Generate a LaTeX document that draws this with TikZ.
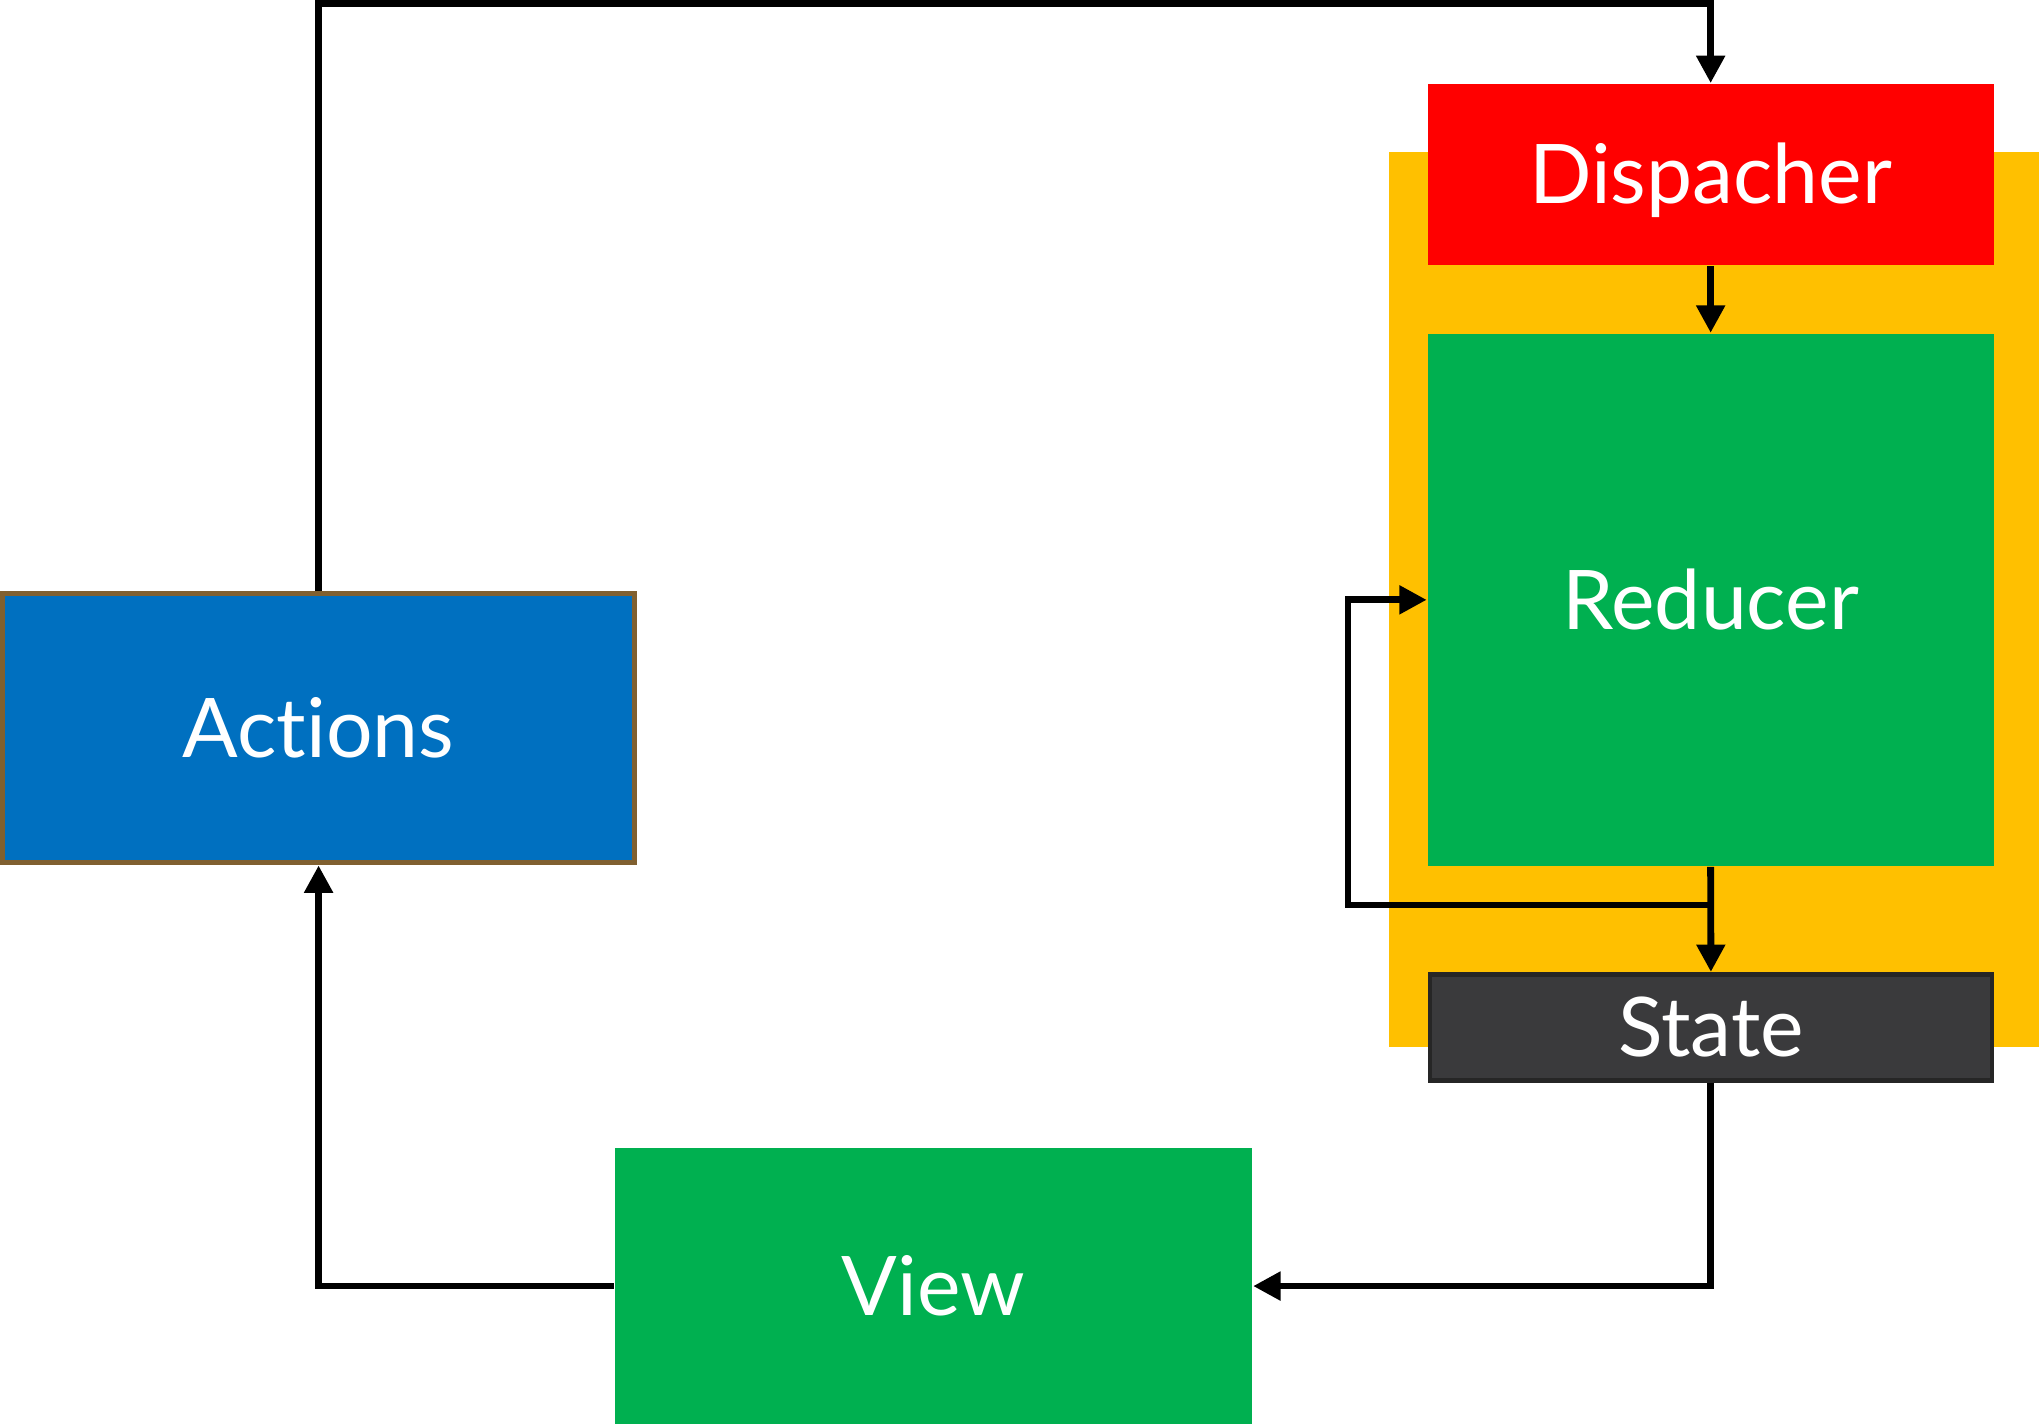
\documentclass[tikz,border=0pt]{standalone}
\usepackage{fontspec}
\setmainfont{Lato}[Ligatures=NoCommon]
\usepackage{xcolor}
\usetikzlibrary{arrows.meta}
\usetikzlibrary{positioning}

\definecolor{storeyellow}{RGB}{255,192,0}
\definecolor{dispred}{RGB}{255,0,0}
\definecolor{flowgreen}{RGB}{0,176,80}
\definecolor{actblue}{RGB}{0,112,192}
\definecolor{actbrown}{RGB}{128,96,48}
\definecolor{stategray}{RGB}{58,58,60}
\definecolor{stateborder}{RGB}{38,38,38}

\begin{document}
\begin{tikzpicture}[x=0.01cm,y=-0.01cm,>={Triangle[length=6pt,width=6pt]},
	font=\fontsize{18}{20}\selectfont,
	box/.style={inner sep=0pt,text=white,text height=12.9pt,text depth=0pt,minimum width=4.35cm},
	flow/.style={line width=1.5pt}]

			\useasboundingbox (0,0) rectangle (1568,1095);

			% store area
			\fill[storeyellow] (1068,117) rectangle (1568,805);

			\node[box,fill=dispred,minimum height=1.39cm] (dispacher) at (1315.5,134.2) {Dispacher};
			\node[box,fill=flowgreen,minimum height=4.09cm] (reducer) at (1315.5,461.3) {Reducer};
			\node[box,fill=stategray,draw=stateborder,line width=1pt,minimum width=4.32cm,minimum height=0.815cm] (state) at (1315.7,790) {State};
			\node[box,fill=actblue,draw=actbrown,line width=1.1pt,minimum width=4.86cm,minimum height=2.07cm] (actions) at (245,560) {Actions};
			\node[box,fill=flowgreen,minimum width=4.9cm,minimum height=2.12cm] (view) at (717.8,989) {View};

			\coordinate (topbend) at (1315.5,2.7);
			\coordinate (loopstart) at (1315.5,696);
			\coordinate (loopleft) at (1036.6,696);

			\draw[flow,->] (actions.north) |- (topbend) -- (dispacher.north);
			\draw[flow,->] (dispacher.south) -- (reducer.north);
			\draw[flow,->] (reducer.south) -- (state.north);
			\draw[flow,->] (loopstart) -- (loopleft) |- (reducer.west);
			\draw[flow,->] (state.south) |- (view.east);
			\draw[flow,->] (view.west) -| (actions.south);

		\end{tikzpicture}
\end{document}
